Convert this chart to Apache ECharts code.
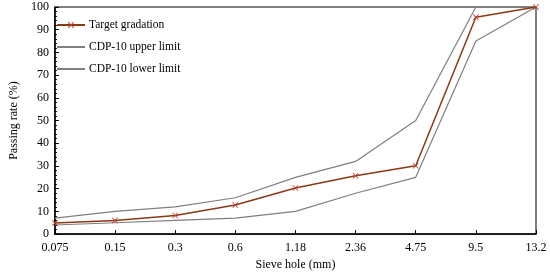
<!DOCTYPE html>
<html>
<head>
<meta charset="utf-8">
<script src="https://cdn.jsdelivr.net/npm/echarts@6/dist/echarts.min.js"></script>
<style>
  html, body { margin: 0; padding: 0; background: #fff; }
  #chart { width: 550px; height: 276px; }
</style>
</head>
<body>
<div id="chart"></div>
<script>
// sieve sizes (mm) and passing rates (%)
const sieves = ['0.075', '0.15', '0.3', '0.6', '1.18', '2.36', '4.75', '9.5', '13.2'];
const target = [4.9, 6, 8.2, 12.8, 20.3, 25.7, 30.1, 95.5, 100];
const upper = [7, 10, 12, 16, 25, 32, 50, 100, 100];
const lower = [4, 5, 6, 7, 10, 18, 25, 85, 100];

const FONT = "'Liberation Serif', 'Times New Roman', serif";
const CROSS = 'path://M0,1L1,0L5,4L9,0L10,1L6,5L10,9L9,10L5,6L1,10L0,9L4,5Z';

const chart = echarts.init(document.getElementById('chart'));

chart.setOption({
  animation: false,
  textStyle: { fontFamily: FONT },
  grid: {
    left: 44, right: 14, top: 7, bottom: 37,
    show: true, borderColor: '#000', borderWidth: 1
  },
  legend: {
    orient: 'vertical',
    left: 51, top: 14,
    itemWidth: 28, itemHeight: 8, itemGap: 10,
    textStyle: { fontFamily: FONT, fontSize: 11.5, color: '#000', padding: [0, 0, 0, -1] },
    data: [
      'Target gradation',
      { name: 'CDP-10 upper limit', itemStyle: { opacity: 0 } },
      { name: 'CDP-10 lower limit', itemStyle: { opacity: 0 } }
    ]
  },
  xAxis: {
    type: 'category',
    data: sieves,
    boundaryGap: false,
    name: 'Sieve hole (mm)',
    nameLocation: 'middle',
    nameGap: 22,
    nameTextStyle: { fontFamily: FONT, fontSize: 12, color: '#000' },
    axisLine: { lineStyle: { color: '#000', width: 1.5 } },
    axisTick: { inside: true, length: 4, lineStyle: { color: '#000' } },
    axisLabel: { fontFamily: FONT, fontSize: 12, color: '#000', margin: 8 },
    splitLine: { show: false }
  },
  yAxis: {
    type: 'value',
    min: 0, max: 100, interval: 10,
    name: 'Passing rate (%)',
    nameLocation: 'middle',
    nameGap: 34,
    nameTextStyle: { fontFamily: FONT, fontSize: 12, color: '#000' },
    axisLine: { show: true, lineStyle: { color: '#000', width: 1.5 } },
    axisTick: { show: true, inside: true, length: 4, lineStyle: { color: '#000' } },
    minorTick: { show: true, splitNumber: 5, length: 2, lineStyle: { color: '#000' } },
    axisLabel: { fontFamily: FONT, fontSize: 12, color: '#000', margin: 6 },
    splitLine: { show: false }
  },
  series: [
    {
      name: 'Target gradation',
      type: 'line',
      data: target,
      symbol: CROSS,
      symbolSize: 6,
      lineStyle: { color: '#8b3a14', width: 1.5 },
      itemStyle: { color: '#c0392b' },
      z: 5
    },
    {
      name: 'CDP-10 upper limit',
      type: 'line',
      data: upper,
      symbol: 'none',
      lineStyle: { color: '#7f7f7f', width: 1.2 },
      itemStyle: { color: '#7f7f7f' }
    },
    {
      name: 'CDP-10 lower limit',
      type: 'line',
      data: lower,
      symbol: 'none',
      lineStyle: { color: '#7f7f7f', width: 1.2 },
      itemStyle: { color: '#7f7f7f' }
    }
  ]
});
</script>
</body>
</html>
